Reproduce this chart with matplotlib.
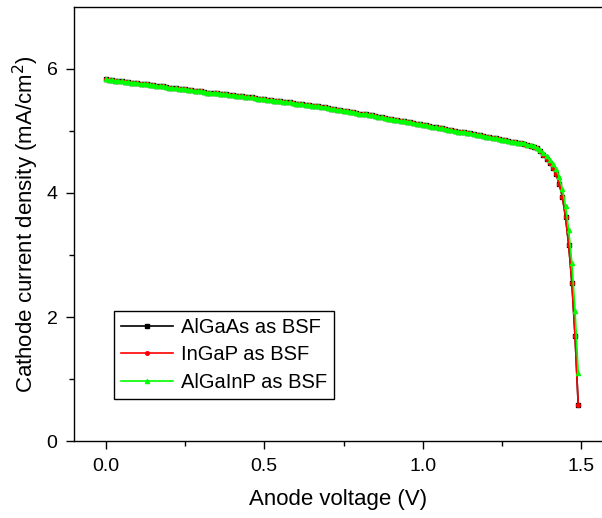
import numpy as np
import matplotlib
matplotlib.use("Agg")
import matplotlib.pyplot as plt

plt.rcParams['font.family'] = ['Liberation Sans', 'DejaVu Sans']

# Anode voltage sweep (V), step 0.01 V from 0.00 to 1.49
voltage = np.round(np.arange(0, 150) * 0.01, 2)

# common linear region 0.00 .. 1.30 (131 values)
j_common = [
    5.83, 5.82, 5.82, 5.81, 5.81, 5.80, 5.79, 5.79, 5.78, 5.78,
    5.77, 5.76, 5.76, 5.75, 5.74, 5.74, 5.73, 5.72, 5.72, 5.71,
    5.70, 5.69, 5.69, 5.68, 5.67, 5.67, 5.66, 5.66, 5.65, 5.64,
    5.64, 5.63, 5.62, 5.62, 5.61, 5.61, 5.60, 5.59, 5.59, 5.58,
    5.58, 5.57, 5.56, 5.56, 5.55, 5.54, 5.54, 5.53, 5.52, 5.52,
    5.51, 5.50, 5.50, 5.49, 5.48, 5.48, 5.47, 5.46, 5.46, 5.45,
    5.44, 5.44, 5.43, 5.42, 5.42, 5.41, 5.40, 5.40, 5.39, 5.38,
    5.37, 5.36, 5.35, 5.34, 5.34, 5.33, 5.32, 5.31, 5.30, 5.29,
    5.28, 5.27, 5.27, 5.26, 5.25, 5.24, 5.23, 5.22, 5.21, 5.20,
    5.19, 5.18, 5.17, 5.16, 5.16, 5.15, 5.14, 5.13, 5.12, 5.11,
    5.10, 5.09, 5.08, 5.07, 5.06, 5.05, 5.04, 5.03, 5.02, 5.01,
    5.00, 4.99, 4.98, 4.98, 4.97, 4.96, 4.95, 4.94, 4.93, 4.92,
    4.91, 4.90, 4.89, 4.88, 4.87, 4.86, 4.85, 4.84, 4.83, 4.82,
    4.81,
]
# 1.31 .. 1.49
j_algaas_tail = [4.80, 4.79, 4.77, 4.76, 4.74, 4.72, 4.68, 4.62, 4.55, 4.48,
                 4.41, 4.31, 4.15, 3.94, 3.61, 3.16, 2.55, 1.69, 0.58]
j_ingap_tail = [4.80, 4.79, 4.77, 4.76, 4.74, 4.72, 4.68, 4.62, 4.55, 4.48,
                4.41, 4.31, 4.15, 3.94, 3.61, 3.16, 2.55, 1.69, 0.58]
j_algainp_tail = [4.81, 4.80, 4.78, 4.77, 4.75, 4.73, 4.70, 4.65, 4.59, 4.53,
                  4.47, 4.39, 4.26, 4.06, 3.79, 3.40, 2.87, 2.10, 1.10]

j_algaas = j_common + j_algaas_tail
j_ingap = j_common + j_ingap_tail
j_algainp = j_common + j_algainp_tail

labels = ["AlGaAs as BSF", "InGaP as BSF", "AlGaInP as BSF"]

fig = plt.figure(figsize=(6.02, 5.18), dpi=100)
ax = fig.add_axes([0.123, 0.1486, 0.877, 0.838])

ax.plot(voltage, j_algaas, color='black', marker='s', markersize=2.2, lw=1.2, label=labels[0])
ax.plot(voltage, j_ingap, color='red', marker='o', markersize=2.6, lw=1.2, label=labels[1])
ax.plot(voltage, j_algainp, color='#00ff00', marker='^', markersize=3.0, lw=1.2, label=labels[2])

ax.set_xlim(-0.1, 1.565)
ax.set_ylim(0, 7)
ax.set_xticks([0.0, 0.5, 1.0, 1.5])
ax.set_xticks([0.25, 0.75, 1.25], minor=True)
ax.set_yticks([0, 2, 4, 6])
ax.set_yticks([1, 3, 5], minor=True)
ax.set_xticklabels(["0.0", "0.5", "1.0", "1.5"])
ax.tick_params(which='major', direction='out', length=6, width=1, labelsize=14, pad=6)
ax.tick_params(which='minor', direction='out', length=3.5, width=1)
ax.tick_params(axis='x', which='both', top=False)
ax.tick_params(axis='y', which='both', right=False)
ax.spines['right'].set_visible(False)
for s in ['left', 'bottom', 'top']:
    ax.spines[s].set_linewidth(1.0)

ax.set_xlabel("Anode voltage (V)", fontsize=16, labelpad=10)
ax.set_ylabel("Cathode current density (mA/cm$^2$)", fontsize=16, labelpad=4)

leg = ax.legend(loc='lower left', bbox_to_anchor=(0.075, 0.097), fontsize=14.5,
                frameon=True, fancybox=False, edgecolor='black', framealpha=1,
                handlelength=2.6, borderpad=0.35, labelspacing=0.42, handletextpad=0.4,
                borderaxespad=0)
leg.get_frame().set_linewidth(1.0)

fig.savefig("out.png", dpi=100)
